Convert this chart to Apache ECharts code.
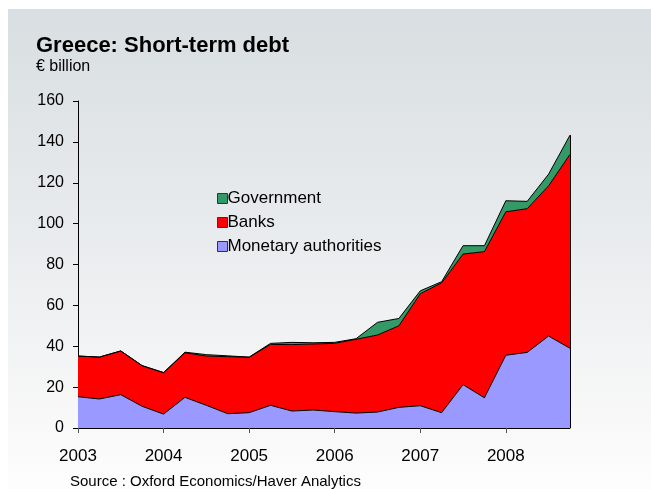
<!DOCTYPE html>
<html>
<head>
<meta charset="utf-8">
<script src="https://cdn.jsdelivr.net/npm/echarts@6/dist/echarts.min.js"></script>
<style>
  html, body { margin: 0; padding: 0; background: #ffffff; }
  #chart { width: 651px; height: 489px; }
</style>
</head>
<body>
<div id="chart"></div>
<script>
// Quarterly observations, 2003 Q1 to 2008 Q4
const quarters = [
  '2003Q1','2003Q2','2003Q3','2003Q4',
  '2004Q1','2004Q2','2004Q3','2004Q4',
  '2005Q1','2005Q2','2005Q3','2005Q4',
  '2006Q1','2006Q2','2006Q3','2006Q4',
  '2007Q1','2007Q2','2007Q3','2007Q4',
  '2008Q1','2008Q2','2008Q3','2008Q4'
];

// Short-term debt by sector, EUR billion
const monetaryAuthorities = [
  15.3, 14.2, 16.3, 10.6, 6.8, 15.0, 11.1, 7.0,
  7.5, 11.1, 8.3, 8.8, 8.0, 7.3, 7.8, 10.1,
  10.9, 7.5, 21.2, 14.8, 35.6, 37.0, 45.0, 39.0
];
const banks = [
  19.9, 20.5, 21.4, 19.9, 20.3, 21.8, 24.1, 27.9,
  27.1, 29.8, 32.5, 32.3, 33.4, 36.1, 37.7, 39.9,
  54.8, 63.5, 63.9, 71.5, 70.2, 70.3, 73.5, 94.9
];
const government = [
  0.0, 0.0, 0.0, 0.0, 0.0, 0.3, 0.7, 0.4,
  0.1, 0.5, 1.1, 0.6, 0.5, 0.3, 6.2, 3.6,
  1.4, 0.6, 4.1, 2.9, 5.4, 3.6, 5.7, 9.4
];

const yTicks = [0, 20, 40, 60, 80, 100, 120, 140, 160];

const seriesNames = ['Monetary authorities', 'Banks', 'Government'];
const seriesColors = ['#9999ff', '#ff0000', '#339966'];
const legendOrder = ['Government', 'Banks', 'Monetary authorities'];

const FONT = '"Liberation Sans", Arial, Helvetica, sans-serif';

const lastIdx = quarters.length - 1;
const lastTotal = monetaryAuthorities[lastIdx] + banks[lastIdx] + government[lastIdx];

function areaSeries(name, values, color, withEdge) {
  const s = {
    name: name,
    type: 'line',
    stack: 'debt',
    data: values,
    symbol: 'none',
    smooth: false,
    color: color,
    itemStyle: { color: color },
    lineStyle: { color: '#000000', width: 1 },
    areaStyle: { color: color, opacity: 1 },
    emphasis: { disabled: true },
    animation: false
  };
  if (withEdge) {
    // closing edge of the stacked areas at the final quarter
    s.markLine = {
      silent: true,
      symbol: ['none', 'none'],
      label: { show: false },
      lineStyle: { color: '#000000', width: 1, type: 'solid' },
      data: [[
        { coord: [quarters[lastIdx], 0] },
        { coord: [quarters[lastIdx], lastTotal] }
      ]],
      animation: false
    };
  }
  return s;
}

const chart = echarts.init(document.getElementById('chart'), null, { renderer: 'canvas' });

chart.setOption({
  animation: false,
  backgroundColor: '#ffffff',
  textStyle: { fontFamily: FONT },
  graphic: [
    {
      type: 'rect',
      z: -10,
      silent: true,
      shape: { x: 8, y: 9, width: 643, height: 480 },
      style: {
        fill: {
          type: 'linear', x: 0, y: 0, x2: 0, y2: 1,
          colorStops: [
            { offset: 0, color: '#d8dee1' },
            { offset: 0.45, color: '#e8ebed' },
            { offset: 0.85, color: '#f8f8f8' },
            { offset: 1, color: '#fdfdfd' }
          ]
        }
      }
    },
    {
      type: 'text',
      left: 36, top: 35,
      silent: true,
      style: { text: 'Greece: Short-term debt', font: 'bold 22px ' + FONT, fill: '#000000' }
    },
    {
      type: 'text',
      left: 36, top: 59,
      silent: true,
      style: { text: '€ billion', font: '16px ' + FONT, fill: '#000000' }
    },
    {
      type: 'text',
      left: 70, top: 474,
      silent: true,
      style: { text: 'Source : Oxford Economics/Haver Analytics', font: '15px ' + FONT, fill: '#000000' }
    }
  ],
  legend: {
    orient: 'vertical',
    left: 212,
    top: 185,
    data: legendOrder,
    icon: 'rect',
    itemWidth: 10,
    itemHeight: 10,
    itemGap: 7,
    selectedMode: false,
    itemStyle: { borderColor: '#333333', borderWidth: 1 },
    textStyle: { fontSize: 17, color: '#000000', fontFamily: FONT, padding: [0, 0, 0, -5] }
  },
  grid: { left: 78, right: 81, top: 101, bottom: 61, containLabel: false },
  xAxis: {
    type: 'category',
    data: quarters,
    boundaryGap: false,
    axisLine: { show: true, lineStyle: { color: '#000000', width: 1 } },
    axisTick: { show: true, interval: 3, length: 5, lineStyle: { color: '#555555' } },
    axisLabel: {
      interval: 3,
      margin: 20,
      fontSize: 17,
      color: '#000000',
      fontFamily: FONT,
      formatter: function (v) { return v.slice(0, 4); }
    },
    splitLine: { show: false }
  },
  yAxis: {
    type: 'value',
    min: yTicks[0],
    max: yTicks[yTicks.length - 1],
    interval: yTicks[1] - yTicks[0],
    axisLine: { show: true, lineStyle: { color: '#000000', width: 1 } },
    axisTick: { show: true, length: 5, lineStyle: { color: '#000000' } },
    axisLabel: { margin: 14, fontSize: 16, color: '#000000', fontFamily: FONT },
    splitLine: { show: false }
  },
  series: [
    areaSeries(seriesNames[0], monetaryAuthorities, seriesColors[0], false),
    areaSeries(seriesNames[1], banks, seriesColors[1], false),
    areaSeries(seriesNames[2], government, seriesColors[2], true)
  ]
});
</script>
</body>
</html>
